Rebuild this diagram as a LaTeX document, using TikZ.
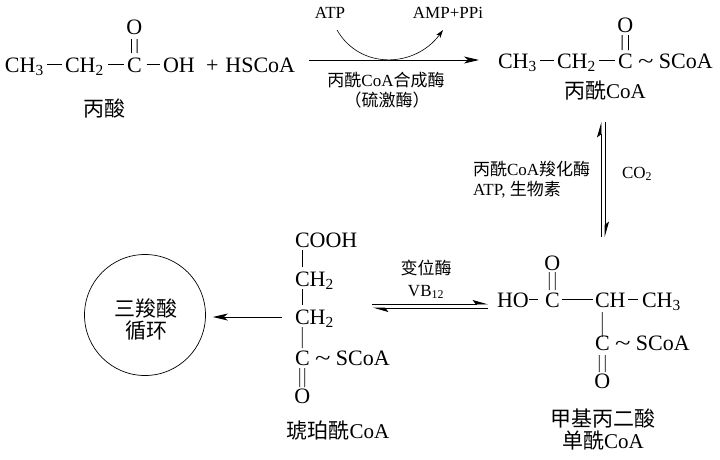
\documentclass[tikz,border=0pt]{standalone}
\usepackage{fontspec}
\setmainfont{Liberation Serif}
\newfontfamily\cjk{Noto Sans CJK SC}
\usetikzlibrary{arrows.meta}
\newcommand{\wave}{\scalebox{1.3}[1]{\textasciitilde}}
\begin{document}
\begin{tikzpicture}[x=1pt,y=-1pt,
  atom/.style={inner sep=0pt, outer sep=0pt, anchor=base west, font=\fontsize{22}{26}\selectfont},
  oxy/.style={atom, anchor=base},
  cname/.style={inner sep=0pt, outer sep=0pt, anchor=base, font=\fontsize{21}{25}\selectfont},
  small/.style={inner sep=0pt, outer sep=0pt, anchor=base, font=\fontsize{17}{20}\selectfont},
  smallw/.style={small, anchor=base west},
  bond/.style={line width=0.8pt},
  hb/.style={bond, shorten <=3.5pt, shorten >=3pt},
  rxn/.style={line width=0.9pt, -{Stealth[length=15pt,width=7pt,inset=4pt]}},
  eqa/.style={line width=0.8pt, -{Stealth[harpoon,length=14pt,width=8pt,inset=3pt]}}
]
\useasboundingbox (0,0) rectangle (720,459);

% propionic acid
\node[atom] (p1) at (5,72) {CH\textsubscript{3}};
\node[atom] (p2) at (65,72) {CH\textsubscript{2}};
\node[atom] (p3) at (127,72) {C};
\node[atom] (p4) at (163,72) {OH};
\node[oxy] (p5) at (134.3,34) {O};
\node[atom] (p6) at (206,72) {+\hspace{7pt}HSCoA};
\draw[hb] ([yshift=8pt]p1.base east) -- ([yshift=8pt]p2.base west);
\draw[hb, shorten <=4.5pt] ([yshift=8pt]p2.base east) -- ([yshift=8pt]p3.base west);
\draw[hb, shorten <=5pt] ([yshift=8pt]p3.base east) -- ([yshift=8pt]p4.base west);
\draw[bond] ([xshift=-2.8pt,yshift=-5pt]p5.base) -- ([xshift=-2.8pt,yshift=19pt]p3.base);
\draw[bond] ([xshift=2.8pt,yshift=-5pt]p5.base) -- ([xshift=2.8pt,yshift=19pt]p3.base);
\node[cname] (n1) at (104.5,116) {\cjk 丙酸};

% propionyl-CoA
\node[atom] (q1) at (498,68) {CH\textsubscript{3}};
\node[atom] (q2) at (557,68) {CH\textsubscript{2}};
\node[atom] (q3) at (618,68) {C};
\node[atom] (q4) at (638,68) {\wave\ SCoA};
\node[oxy] (q5) at (625.3,32) {O};
\draw[hb] ([yshift=8pt]q1.base east) -- ([yshift=8pt]q2.base west);
\draw[hb] ([yshift=8pt]q2.base east) -- ([yshift=8pt]q3.base west);
\draw[bond] ([xshift=-3.2pt,yshift=-3pt]q5.base) -- ([xshift=-3.2pt,yshift=18pt]q3.base);
\draw[bond] ([xshift=3.2pt,yshift=-3pt]q5.base) -- ([xshift=3.2pt,yshift=18pt]q3.base);
\node[cname] (n2) at (605,98) {{\cjk 丙酰}CoA};

% reaction 1
\draw[rxn, shorten <=14pt, shorten >=19pt] ([yshift=12pt]p6.base east) -- ([yshift=8pt]q1.base west);
\node[small] (atp) at (330,18) {ATP};
\node[small] (amp) at (448,18) {AMP+PPi};
\coordinate (cs) at (337,30);
\coordinate (ce) at (443,30);
\draw[line width=0.6pt, -{Stealth[length=8pt,width=5pt,inset=2pt]}] (cs) .. controls (360,70) and (415,68) .. (ce);
\node[small] (e1) at (386,86) {{\cjk 丙酰}CoA{\cjk 合成酶}};
\node[small] (e2) at (387,106) {\cjk （硫激酶）};

% reaction 2 (vertical)
\coordinate (vt1) at (601,122);
\coordinate (vb1) at (601,237);
\coordinate (vt2) at (605,122);
\coordinate (vb2) at (605,237);
\draw[eqa] (vb1) -- (vt1);
\draw[eqa] (vt2) -- (vb2);
\node[smallw] (e3) at (473,175) {{\cjk 丙酰}CoA{\cjk 羧化酶}};
\node[smallw] (e4) at (473,195) {ATP, {\cjk 生物素}};
\node[smallw] (co2) at (622,178) {CO\textsubscript{2}};

% methylmalonyl-CoA
\node[atom] (m1) at (497,307) {HO};
\node[atom] (m2) at (545,307) {C};
\node[atom] (m3) at (595,307) {CH};
\node[atom] (m4) at (642,307) {CH\textsubscript{3}};
\node[oxy] (m2o) at (552.3,270) {O};
\node[atom] (m5) at (595,350) {C};
\node[atom] (m5t) at (615,350) {\wave\ SCoA};
\node[oxy] (m5o) at (602.3,388) {O};
\draw[bond, shorten <=0pt, shorten >=7pt] ([yshift=7.5pt]m1.base east) -- ([yshift=7.5pt]m2.base west);
\draw[bond, shorten <=2pt, shorten >=2pt] ([yshift=7.5pt]m2.base east) -- ([yshift=7.5pt]m3.base west);
\draw[bond, shorten <=2pt, shorten >=4pt] ([yshift=7.5pt]m3.base east) -- ([yshift=7.5pt]m4.base west);
\draw[bond] ([xshift=-3pt,yshift=-2pt]m2o.base) -- ([xshift=-3pt,yshift=17pt]m2.base);
\draw[bond] ([xshift=3pt,yshift=-2pt]m2o.base) -- ([xshift=3pt,yshift=17pt]m2.base);
\draw[bond] ([xshift=7.3pt,yshift=-5pt]m3.base west) -- ([yshift=13pt]m5.base);
\draw[bond] ([xshift=-3pt,yshift=-5pt]m5.base) -- ([xshift=-3pt,yshift=16pt]m5o.base);
\draw[bond] ([xshift=3pt,yshift=-5pt]m5.base) -- ([xshift=3pt,yshift=16pt]m5o.base);
\node[cname] (n3) at (603,426) {\cjk 甲基丙二酸};
\node[cname] (n4) at (603,448) {{\cjk 单酰}CoA};

% reaction 3 (equilibrium)
\coordinate (h1) at (372,304);
\coordinate (h2) at (488,304);
\coordinate (h3) at (373,308);
\coordinate (h4) at (488,308);
\draw[eqa] (h1) -- (h2);
\draw[eqa] (h4) -- (h3);
\node[small] (e5) at (426,274) {\cjk 变位酶};
\node[small] (e6) at (426,296) {VB\textsubscript{12}};

% succinyl-CoA
\node[atom] (s1) at (295,247) {COOH};
\node[atom] (s2) at (295,286) {CH\textsubscript{2}};
\node[atom] (s3) at (295,324) {CH\textsubscript{2}};
\node[atom] (s4) at (295,365) {C};
\node[atom] (s4t) at (315,365) {\wave\ SCoA};
\node[oxy] (s5) at (302.3,403) {O};
\draw[bond] ([xshift=7.3pt,yshift=-3pt]s1.base west) -- ([xshift=7.3pt,yshift=19pt]s2.base west);
\draw[bond] ([xshift=7.3pt,yshift=-3pt]s2.base west) -- ([xshift=7.3pt,yshift=19pt]s3.base west);
\draw[bond] ([xshift=7.3pt,yshift=-3pt]s3.base west) -- ([yshift=17pt]s4.base);
\draw[bond] ([xshift=-2.5pt,yshift=-3pt]s4.base) -- ([xshift=-2.5pt,yshift=16pt]s5.base);
\draw[bond] ([xshift=2.5pt,yshift=-3pt]s4.base) -- ([xshift=2.5pt,yshift=16pt]s5.base);
\node[cname] (n5) at (338,438) {{\cjk 琥珀酰}CoA};

% TCA cycle
\node[circle, draw, line width=0.7pt, minimum size=121pt, inner sep=0pt] (tca) at (145,315) {};
\node[cname] (t1) at (146,316) {\cjk 三羧酸};
\node[cname] (t2) at (146,338) {\cjk 循环};
\draw[rxn, shorten <=13pt, shorten >=7pt] ([yshift=7pt]s3.base west) -- ([yshift=-2pt]tca.east);
\end{tikzpicture}
\end{document}
